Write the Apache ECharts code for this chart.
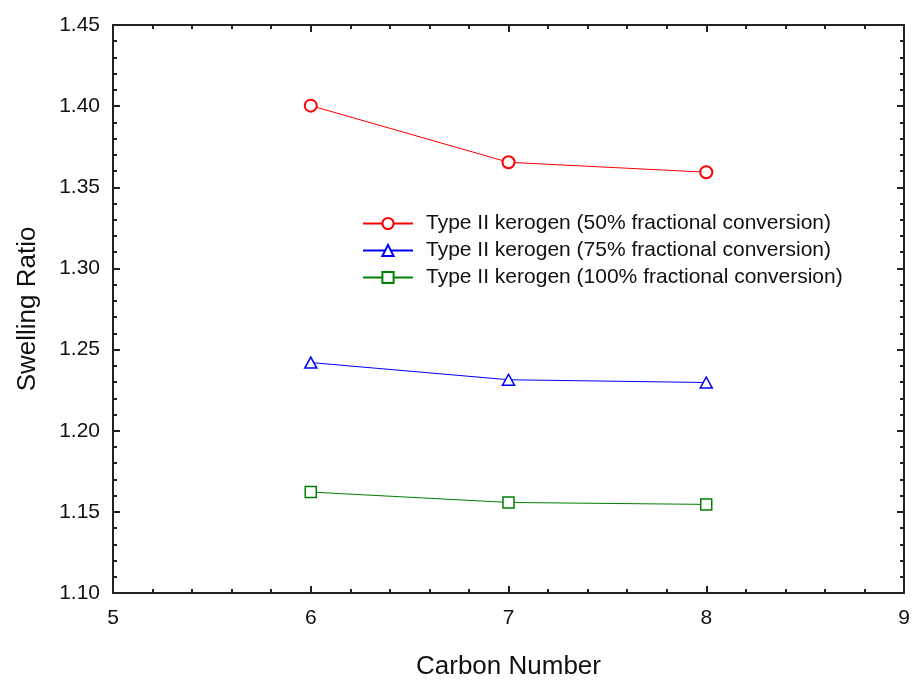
<!DOCTYPE html>
<html>
<head>
<meta charset="utf-8">
<script src="https://cdn.jsdelivr.net/npm/echarts@6/dist/echarts.min.js"></script>
<style>
  html, body { margin:0; padding:0; background:#fff; }
  #chart { width:914px; height:683px; }
</style>
</head>
<body>
<div id="chart"></div>
<script>
// carbon numbers on x
const carbonNumbers = [6, 7, 8];
// swelling ratio per series
const conv50 = [1.4003, 1.3654, 1.3593];
const conv75 = [1.2420, 1.2314, 1.2297];
const conv100 = [1.1622, 1.1558, 1.1546];
const seriesNames = [
    'Type II kerogen (50% fractional conversion)',
    'Type II kerogen (75% fractional conversion)',
    'Type II kerogen (100% fractional conversion)'
];

const FONT = '"Liberation Sans", Arial, sans-serif';
const axisColor = '#222';

function pairs(ys){
    return carbonNumbers.map((x, i) => [x, ys[i]]);
}

function makeAxis(extra){
    return Object.assign({
        type:'value',
        axisLine:{ show:true, onZero:false, lineStyle:{ color:axisColor, width:2 } },
        axisTick:{ show:true, inside:true, length:7, lineStyle:{ color:axisColor, width:2 } },
        minorTick:{ show:true, splitNumber:5, length:4, lineStyle:{ color:axisColor, width:2 } },
        splitLine:{ show:false },
        axisLabel:{ color:'#111', fontSize:21, fontFamily:FONT }
    }, extra);
}

let myChart = echarts.init(document.getElementById('chart'));
let option = {
    backgroundColor:'#fff',
    animation:false,
    grid:{ left:113, right:10, top:25, bottom:90, containLabel:false, outerBoundsMode:'none' },
    legend:{
        left:357,
        top:208,
        orient:'vertical',
        itemGap:6,
        itemWidth:50,
        itemHeight:14,
        textStyle:{ fontSize:21, fontFamily:FONT, color:'#111', padding:[0, 0, 0, 8] },
        data:seriesNames
    },
    xAxis:[
        makeAxis({
            min:5, max:9, interval:1,
            name:'Carbon Number',
            nameLocation:'middle',
            nameGap:61,
            nameTextStyle:{ fontSize:26, fontFamily:FONT, color:'#111' },
            axisLabel:{ color:'#111', fontSize:21, fontFamily:FONT, margin:15 }
        }),
        makeAxis({
            min:5, max:9, interval:1, position:'top',
            axisLabel:{ show:false }
        })
    ],
    yAxis:[
        makeAxis({
            min:1.10, max:1.45, interval:0.05,
            name:'Swelling Ratio',
            nameLocation:'middle',
            nameGap:72,
            nameTextStyle:{ fontSize:26, fontFamily:FONT, color:'#111' },
            axisLabel:{ color:'#111', fontSize:21, fontFamily:FONT, margin:13,
                formatter:v => v.toFixed(2) }
        }),
        makeAxis({
            min:1.10, max:1.45, interval:0.05, position:'right',
            axisLabel:{ show:false }
        })
    ],
    series:[
        {
            name:seriesNames[0], type:'line', data:pairs(conv50),
            symbol:'emptyCircle', symbolSize:12,
            lineStyle:{ color:'#ff0000', width:1 },
            itemStyle:{ color:'#ff0000', borderWidth:1.5 }
        },
        {
            name:seriesNames[1], type:'line', data:pairs(conv75),
            symbol:'triangle', symbolSize:[12, 11],
            lineStyle:{ color:'#0000ff', width:1 },
            itemStyle:{ color:'#fff', borderColor:'#0000ff', borderWidth:1.5 }
        },
        {
            name:seriesNames[2], type:'line', data:pairs(conv100),
            symbol:'rect', symbolSize:11,
            lineStyle:{ color:'#008000', width:1 },
            itemStyle:{ color:'#fff', borderColor:'#008000', borderWidth:1.5 }
        }
    ]
};
myChart.setOption(option);
</script>
</body>
</html>
